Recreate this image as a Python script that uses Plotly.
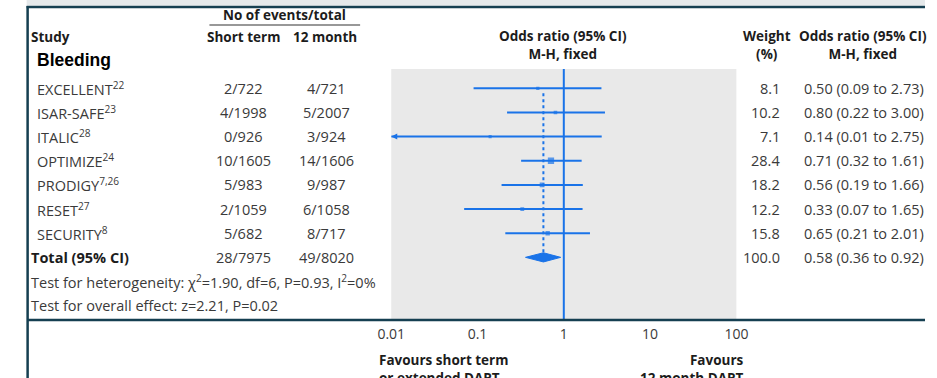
import plotly.graph_objects as go

# ---- data -------------------------------------------------------------
studies = ["EXCELLENT", "ISAR-SAFE", "ITALIC", "OPTIMIZE", "PRODIGY", "RESET", "SECURITY"]
refs = ["22", "23", "28", "24", "7,26", "27", "8"]
short_term = ["2/722", "4/1998", "0/926", "10/1605", "5/983", "2/1059", "5/682"]
twelve_month = ["4/721", "5/2007", "3/924", "14/1606", "9/987", "6/1058", "8/717"]
weights = [8.1, 10.2, 7.1, 28.4, 18.2, 12.2, 15.8]
odds_ratio = [0.50, 0.80, 0.14, 0.71, 0.56, 0.33, 0.65]
ci_low = [0.09, 0.22, 0.01, 0.32, 0.19, 0.07, 0.21]
ci_high = [2.73, 3.00, 2.75, 1.61, 1.66, 1.65, 2.01]

total_short = "28/7975"
total_twelve = "49/8020"
total_weight = 100.0
total_or = 0.58
total_low = 0.36
total_high = 0.92

heterogeneity = "Test for heterogeneity: χ<sup>2</sup>=1.90, df=6, P=0.93, I<sup>2</sup>=0%"
overall_effect = "Test for overall effect: z=2.21, P=0.02"

x_ticks = [0.01, 0.1, 1, 10, 100]
x_tick_text = ["0.01", "0.1", "1", "10", "100"]
axis_min, axis_max = 0.01, 100

# ---- layout helpers ---------------------------------------------------
W, H = 937, 378
BLUE = "#1a73e8"
FRAME = "#153f51"
TEXT = "#3a3a3a"
HEAD = "#1c1c1c"
FONT = "Open Sans"

ROW0_PX, ROW_STEP = 88.3, 24.15
PLOT_TOP, PLOT_BOTTOM = 69, 320
PLOT_LEFT, PLOT_RIGHT = 388, 743


def px(x):
    return x / W


def py(y):
    return 1 - y / H


n = len(studies)
total_row = n
rows = list(range(n))
y_top = (PLOT_TOP - ROW0_PX) / ROW_STEP
y_bottom = (PLOT_BOTTOM - ROW0_PX) / ROW_STEP

fig = go.Figure()

# line of no effect
fig.add_trace(go.Scatter(x=[1, 1], y=[y_top, y_bottom], mode="lines",
                         line=dict(color=BLUE, width=2), hoverinfo="skip"))

# pooled estimate reference (dotted)
fig.add_trace(go.Scatter(x=[total_or, total_or], y=[0.2, total_row - 0.19], mode="lines",
                         line=dict(color=BLUE, width=2, dash="3px,3px"), hoverinfo="skip"))

# confidence intervals
ci_x, ci_y = [], []
for lo, hi, r in zip(ci_low, ci_high, rows):
    ci_x += [lo, hi, None]
    ci_y += [r, r, None]
fig.add_trace(go.Scatter(x=ci_x, y=ci_y, mode="lines",
                         line=dict(color=BLUE, width=2), hoverinfo="skip"))

# arrows where an interval runs to the axis limit
arrow_x = [lo for lo in ci_low if lo <= axis_min]
arrow_y = [r for lo, r in zip(ci_low, rows) if lo <= axis_min]
fig.add_trace(go.Scatter(x=arrow_x, y=arrow_y, mode="markers", cliponaxis=False,
                         marker=dict(symbol="arrow-left", size=6, color=BLUE),
                         hoverinfo="skip"))

# study estimates, box size by weight
fig.add_trace(go.Scatter(x=odds_ratio, y=rows, mode="markers",
                         marker=dict(symbol="square", color=BLUE,
                                     size=[2 + 0.15 * w for w in weights],
                                     line=dict(width=0)),
                         hoverinfo="skip"))

# pooled diamond
h = 0.19
fig.add_trace(go.Scatter(x=[total_low, total_or, total_high, total_or, total_low],
                         y=[total_row, total_row - h, total_row, total_row + h, total_row],
                         mode="lines", fill="toself", fillcolor=BLUE,
                         line=dict(color=BLUE, width=1), hoverinfo="skip"))

ann = []


def text(x, y, s, xanchor="left", yref="y", size=14.5, color=TEXT, bold=False,
         family=FONT, yanchor="middle"):
    if bold:
        s = "<b>" + s + "</b>"
    ann.append(dict(x=x, y=y, xref="paper", yref=yref, text=s, showarrow=False,
                    xanchor=xanchor, yanchor=yanchor, align=xanchor,
                    font=dict(family=family, size=size, color=color)))


# header
text(px(278), py(15), "No of events/total", "center", "paper", 13.5, HEAD, True)
text(px(15), py(37), "Study", "left", "paper", 13.5, HEAD, True)
text(px(236), py(37), "Short term", "center", "paper", 13.5, HEAD, True)
text(px(320), py(37), "12 month", "center", "paper", 13.5, HEAD, True)
text(px(565), py(45), "Odds ratio (95% CI)<br>M-H, fixed", "center", "paper", 13.5, HEAD, True)
text(px(775), py(45), "Weight<br>(%)", "center", "paper", 13.5, HEAD, True)
text(px(873), py(45), "Odds ratio (95% CI)<br>M-H, fixed", "center", "paper", 13.5, HEAD, True)
text(px(22), py(60), "Bleeding", "left", "paper", 17.5, "#000000", True, "Liberation Sans")

# study rows
for r, name, ref, s, t, w, o, lo, hi in zip(rows, studies, refs, short_term, twelve_month,
                                             weights, odds_ratio, ci_low, ci_high):
    text(px(22), r, f"{name}<sup>{ref}</sup>")
    text(px(236), r, s, "center")
    text(px(321), r, t, "center")
    text(px(790), r, f"{w:.1f}", "right")
    text(px(811), r, f"{o:.2f} ({lo:.2f} to {hi:.2f})")

# total row and tests
text(px(15), total_row, "Total (95% CI)", bold=True, color=HEAD)
text(px(236), total_row, total_short, "center")
text(px(321), total_row, total_twelve, "center")
text(px(790), total_row, f"{total_weight:.1f}", "right")
text(px(811), total_row, f"{total_or:.2f} ({total_low:.2f} to {total_high:.2f})")
text(px(15), total_row + 1, heterogeneity)
text(px(15), total_row + 2, overall_effect)

# favours labels
text(px(373), py(349), "Favours short term<br>or extended DAPT", "left", "paper", 13.5, HEAD, True,
     yanchor="top")
text(px(753), py(349), "Favours<br>12 month DAPT", "right", "paper", 13.5, HEAD, True,
     yanchor="top")

shapes = [
    dict(type="rect", xref="paper", yref="paper", x0=px(13), x1=1, y0=py(0), y1=py(5.5),
         fillcolor="#e5e9eb", line=dict(width=0), layer="below"),
    dict(type="line", xref="paper", yref="paper", x0=px(13), x1=1, y0=py(7), y1=py(7),
         line=dict(color=FRAME, width=2.5)),
    dict(type="line", xref="paper", yref="paper", x0=px(14), x1=px(14), y0=py(6), y1=0,
         line=dict(color=FRAME, width=2.5)),
    dict(type="line", xref="paper", yref="paper", x0=px(14), x1=1, y0=py(320), y1=py(320),
         line=dict(color=FRAME, width=2.5)),
    dict(type="line", xref="paper", yref="paper", x0=px(201), x1=px(356), y0=py(25), y1=py(25),
         line=dict(color="#333333", width=1.2)),
]

fig.update_layout(
    width=W, height=H,
    margin=dict(l=0, r=0, t=0, b=0),
    paper_bgcolor="white",
    plot_bgcolor="#e9e9e9",
    showlegend=False,
    annotations=ann,
    shapes=shapes,
    xaxis=dict(type="log", range=[-2, 2], domain=[px(PLOT_LEFT), px(PLOT_RIGHT)],
               tickvals=x_ticks, ticktext=x_tick_text, showgrid=False, zeroline=False,
               showline=False, ticks="", ticklabelstandoff=4,
               tickfont=dict(family=FONT, size=14, color=TEXT), fixedrange=True),
    yaxis=dict(range=[y_bottom, y_top], domain=[py(PLOT_BOTTOM), py(PLOT_TOP)],
               visible=False, fixedrange=True),
)

fig.write_html("out.html", config={"displayModeBar": False})
